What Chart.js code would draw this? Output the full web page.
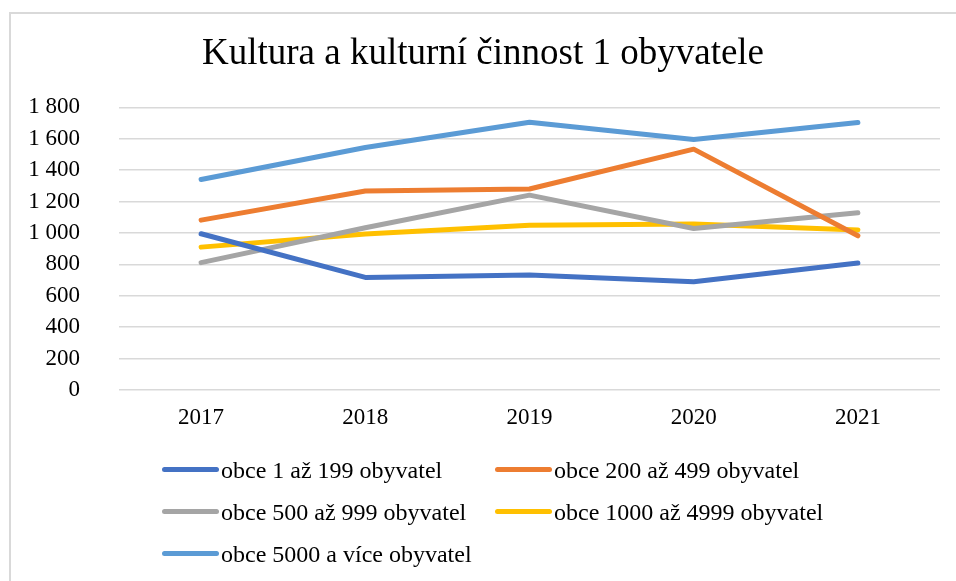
<!DOCTYPE html>
<html>
<head>
<meta charset="utf-8">
<script src="https://cdn.jsdelivr.net/npm/chart.js@4.4.1/dist/chart.umd.min.js"></script>
<style>
  html, body { margin: 0; padding: 0; background: #fff; }
  #wrap { position: relative; width: 956px; height: 581px; overflow: hidden; }
  #frame { position: absolute; left: 9px; top: 12px; width: 1000px; height: 600px;
           border-left: 2px solid #d9d9d9; border-top: 2px solid #d9d9d9; }
  #chart1 { position: absolute; left: 0; top: 0; }
  .leg { position: absolute; height: 30px; white-space: nowrap;
         font-family: "Liberation Serif", "Times New Roman", serif; font-size: 24px; color: #000; }
  .leg .mk { position: absolute; left: 0; top: 12px; width: 57px; height: 5px; border-radius: 3px; }
  .leg .tx { position: absolute; left: 59px; top: 0; line-height: 30px; }
</style>
</head>
<body>
<div id="wrap">
  <div id="frame"></div>
  <canvas id="chart1" width="956" height="581"></canvas>
  <div id="legend"></div>
</div>
<script>
const years = ['2017', '2018', '2019', '2020', '2021'];

const obce1_199 = [995, 717, 732, 690, 809];
const obce200_499 = [1082, 1267, 1280, 1534, 982];
const obce500_999 = [811, 1033, 1241, 1029, 1129];
const obce1000_4999 = [910, 993, 1050, 1057, 1019];
const obce5000 = [1341, 1545, 1706, 1596, 1704];

const seriesNames = [
  'obce 1 až 199 obyvatel',
  'obce 200 až 499 obyvatel',
  'obce 500 až 999 obyvatel',
  'obce 1000 až 4999 obyvatel',
  'obce 5000 a více obyvatel'
];
const seriesColors = ['#4472C4', '#ED7D31', '#A5A5A5', '#FFC000', '#5B9BD5'];
const seriesValues = [obce1_199, obce200_499, obce500_999, obce1000_4999, obce5000];

const serif = '"Liberation Serif", "Times New Roman", serif';

function fmt(v) {
  var s = String(v);
  if (v >= 1000) s = s.slice(0, -3) + ' ' + s.slice(-3);
  return s;
}

const myChartData = {
  type: 'line',
  data: {
    labels: years,
    datasets: seriesValues.map(function(vals, i) {
      return {
        label: seriesNames[i],
        data: vals,
        borderColor: seriesColors[i],
        backgroundColor: seriesColors[i],
        borderWidth: 5,
        borderCapStyle: 'round',
        borderJoinStyle: 'round',
        pointRadius: 0,
        tension: 0
      };
    })
  },
  options: {
    responsive: false,
    animation: false,
    // left padding kept small so the y labels are not clipped, but the title sits a bit right
    layout: { padding: { left: 26, right: 16, top: 0, bottom: 131 } },
    plugins: {
      legend: { display: false },
      tooltip: { enabled: false },
      title: {
        display: true,
        text: 'Kultura a kulturní činnost 1 obyvatele',
        color: '#000',
        font: { family: serif, size: 37, weight: 'normal' },
        padding: { top: 32, bottom: 31 }
      }
    },
    scales: {
      x: {
        offset: true,
        grid: { display: false, drawTicks: false },
        border: { display: false },
        ticks: { color: '#000', font: { family: serif, size: 23 }, padding: 14, maxRotation: 0 },
        afterFit: function(scale) { scale.height = 60; }
      },
      y: {
        min: 0,
        max: 1800,
        grid: { color: '#d9d9d9', lineWidth: 1.5, drawTicks: false },
        border: { display: false },
        ticks: {
          stepSize: 200,
          color: '#000',
          font: { family: serif, size: 23 },
          padding: 39,
          callback: function(v) { return fmt(v); }
        },
        afterFit: function(scale) { scale.width = 93; }
      }
    }
  }
};

function createChart(chartId, chartData) {
  const ctx = document.getElementById(chartId);
  return new Chart(ctx, {
    type: chartData.type,
    data: chartData.data,
    options: chartData.options
  });
}

function buildLegend(chart) {
  const box = document.getElementById('legend');
  const cols = [162, 495];
  const rows = [455, 497, 539];
  chart.data.datasets.forEach(function(ds, i) {
    const item = document.createElement('div');
    item.className = 'leg';
    item.style.left = cols[i % 2] + 'px';
    item.style.top = rows[Math.floor(i / 2)] + 'px';
    const mk = document.createElement('span');
    mk.className = 'mk';
    mk.style.background = ds.borderColor;
    const tx = document.createElement('span');
    tx.className = 'tx';
    tx.textContent = ds.label;
    item.appendChild(mk);
    item.appendChild(tx);
    box.appendChild(item);
  });
}

const chart = createChart('chart1', myChartData);
buildLegend(chart);
</script>
</body>
</html>
